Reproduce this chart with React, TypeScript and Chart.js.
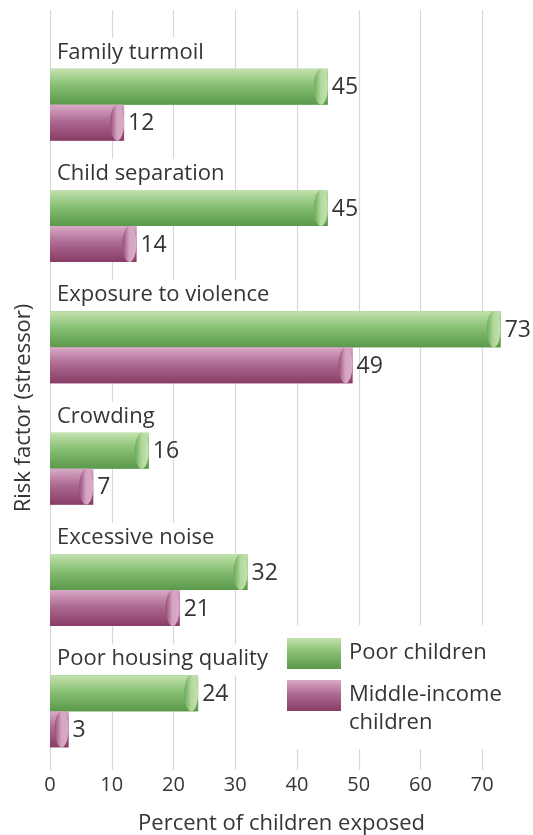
import React, { useEffect, useRef } from 'react';
import { Chart, registerables } from 'chart.js';

Chart.register(...registerables);

const categories = [
  'Family turmoil',
  'Child separation',
  'Exposure to violence',
  'Crowding',
  'Excessive noise',
  'Poor housing quality',
];
const poorChildren = [45, 45, 73, 16, 32, 24];
const middleIncomeChildren = [12, 14, 49, 7, 21, 3];
const xTicks = [0, 10, 20, 30, 40, 50, 60, 70];
const seriesNames = ['Poor children', 'Middle-income children'];
const legendLines = [['Poor children'], ['Middle-income', 'children']];
const xTitle = 'Percent of children exposed';
const yTitle = 'Risk factor (stressor)';

const FONT = '"Open Sans", Lato, sans-serif';
const TEXT = '#353535';
const GRID = '#d8d8d8';

const palettes = [
  { top: '#c4e2af', mid: '#88c074', bottom: '#5a984a', capDark: '#6aaa58', capLight: '#b2d89c' },
  { top: '#daaac8', mid: '#ad6b93', bottom: '#883c66', capDark: '#964b75', capLight: '#d6a5c3' },
];

function vGrad(ctx: CanvasRenderingContext2D, y0: number, y1: number, p: any) {
  const g = ctx.createLinearGradient(0, y0, 0, y1);
  g.addColorStop(0, p.top);
  g.addColorStop(0.45, p.mid);
  g.addColorStop(1, p.bottom);
  return g;
}

const customPlugin = {
  id: 'customDecor',
  beforeDatasetsDraw(chart: any) {
    const { ctx, chartArea, scales } = chart;
    const xs = scales.x;
    ctx.save();
    // grid lines
    ctx.strokeStyle = GRID;
    ctx.lineWidth = 1.2;
    xTicks.forEach((v) => {
      const px = Math.round(xs.getPixelForValue(v)) + 0.5;
      ctx.beginPath();
      ctx.moveTo(px, 10);
      ctx.lineTo(px, chartArea.bottom - 2);
      ctx.stroke();
    });
    // category labels with white boxes
    ctx.font = `22px ${FONT}`;
    ctx.textBaseline = 'alphabetic';
    ctx.textAlign = 'left';
    const meta = chart.getDatasetMeta(0);
    categories.forEach((c, i) => {
      const el = meta.data[i];
      const top = el.y - el.height / 2;
      const w = ctx.measureText(c).width;
      ctx.fillStyle = '#ffffff';
      ctx.fillRect(chartArea.left + 1, top - 31, w + 12, 31);
      ctx.fillStyle = TEXT;
      ctx.fillText(c, chartArea.left + 7, top - 10);
    });
    // legend box
    const lx = chartArea.left + 232;
    const ly = chartArea.bottom - 147;
    ctx.fillStyle = '#ffffff';
    ctx.fillRect(lx, ly, 250, 124);
    const swY = [ly + 13, ly + 55];
    ctx.font = `22px ${FONT}`;
    ctx.textBaseline = 'middle';
    legendLines.forEach((lines, k) => {
      const sx = lx + 5;
      const sy = swY[k];
      ctx.fillStyle = vGrad(ctx, sy, sy + 31, palettes[k]);
      ctx.fillRect(sx, sy, 54, 31);
      ctx.fillStyle = TEXT;
      lines.forEach((t, j) => {
        ctx.fillText(t, lx + 67, sy + 15 + j * 28);
      });
    });
    ctx.restore();
  },
  afterDatasetsDraw(chart: any) {
    const { ctx } = chart;
    ctx.save();
    [0, 1].forEach((d) => {
      const meta = chart.getDatasetMeta(d);
      const p = palettes[d];
      const values = d === 0 ? poorChildren : middleIncomeChildren;
      meta.data.forEach((el: any, i: number) => {
        const { x, y, base, height } = el.getProps(['x', 'y', 'base', 'height'], true);
        const top = y - height / 2;
        const bottom = y + height / 2;
        ctx.fillStyle = vGrad(ctx, top, bottom, p);
        ctx.fillRect(base, top, x - base, height);
        // cylinder end cap
        const rx = Math.min(7, (x - base) / 2);
        const cx = x - rx;
        const hg = ctx.createLinearGradient(cx - rx, 0, cx + rx, 0);
        hg.addColorStop(0, p.capDark);
        hg.addColorStop(0.5, p.capLight);
        hg.addColorStop(1, p.top);
        ctx.beginPath();
        ctx.ellipse(cx, y, rx, height / 2, 0, 0, Math.PI * 2);
        ctx.fillStyle = hg;
        ctx.fill();
        // value label
        ctx.fillStyle = TEXT;
        ctx.font = `23px ${FONT}`;
        ctx.textAlign = 'left';
        ctx.textBaseline = 'middle';
        ctx.fillText(String(values[i]), x + 4, y + 1);
      });
    });
    ctx.restore();
  },
};

export default function App() {
  const ref = useRef<HTMLCanvasElement | null>(null);
  useEffect(() => {
    if (!ref.current) return;
    const chart = new Chart(ref.current, {
      type: 'bar',
      data: {
        labels: categories,
        datasets: [
          {
            label: seriesNames[0],
            data: poorChildren,
            backgroundColor: palettes[0].mid,
            borderWidth: 0,
            barPercentage: 1,
            categoryPercentage: 0.593,
          },
          {
            label: seriesNames[1],
            data: middleIncomeChildren,
            backgroundColor: palettes[1].mid,
            borderWidth: 0,
            barPercentage: 1,
            categoryPercentage: 0.593,
          },
        ],
      },
      options: {
        indexAxis: 'y',
        responsive: false,
        animation: false,
        layout: { padding: { left: 11, right: 20, top: 44, bottom: 0 } },
        plugins: {
          legend: { display: false },
          tooltip: { enabled: false },
        },
        scales: {
          x: {
            type: 'linear',
            min: 0,
            max: 75,
            afterBuildTicks: (scale: any) => {
              scale.ticks = xTicks.map((v) => ({ value: v }));
            },
            grid: { display: false, drawTicks: false, tickLength: 0 },
            border: { display: false },
            ticks: {
              color: TEXT,
              font: { family: FONT, size: 20 },
              padding: 1,
              maxRotation: 0,
            },
            title: {
              display: true,
              text: xTitle,
              color: TEXT,
              font: { family: FONT, size: 22 },
              padding: { top: 12.6, bottom: -2 },
            },
          },
          y: {
            type: 'category',
            offset: true,
            grid: { display: false, drawTicks: false, tickLength: 0 },
            border: { display: false },
            ticks: { display: false },
            title: {
              display: true,
              text: yTitle,
              color: TEXT,
              font: { family: FONT, size: 22 },
              padding: { top: 0, bottom: 12.6 },
            },
          },
        },
      },
      plugins: [customPlugin],
    } as any);
    return () => chart.destroy();
  }, []);
  return (
    <div style={{ position: 'fixed', left: 0, top: 0, width: 533, height: 835, background: '#fff' }}>
      <canvas ref={ref} width={533} height={835} style={{ width: 533, height: 835, display: 'block' }} />
    </div>
  );
}
